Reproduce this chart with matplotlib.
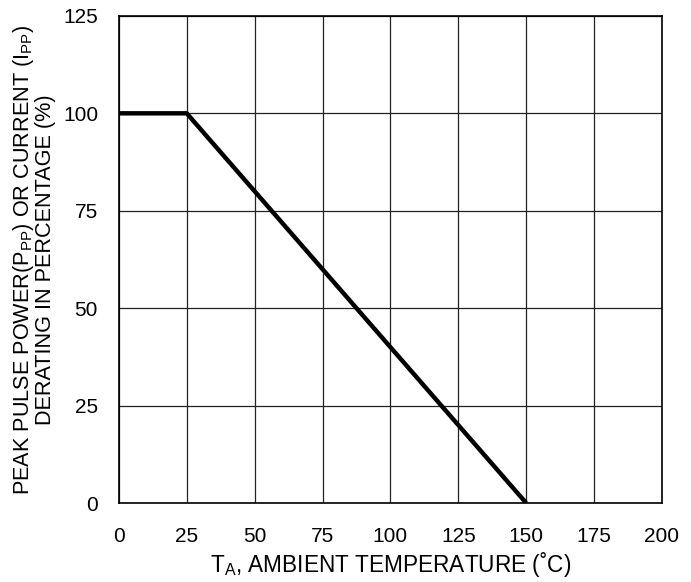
import matplotlib
matplotlib.use("Agg")
import matplotlib.pyplot as plt

plt.rcParams['font.family'] = ['Liberation Sans', 'DejaVu Sans']
plt.rcParams['mathtext.fontset'] = 'custom'
plt.rcParams['mathtext.rm'] = 'Liberation Sans'
plt.rcParams['mathtext.it'] = 'Liberation Sans'

temp = [0, 25, 150]
derating = [100, 100, 0]
xticks = [0, 25, 50, 75, 100, 125, 150, 175, 200]
yticks = [0, 25, 50, 75, 100, 125]

fig = plt.figure(figsize=(6.91, 5.82), dpi=100)
ax = fig.add_axes([0.172, 0.1357, 0.786, 0.837])

ax.plot(temp, derating, color='black', linewidth=3.2, solid_capstyle='butt', zorder=3)

ax.set_xlim(0, 200)
ax.set_ylim(0, 125)
ax.set_xticks(xticks)
ax.set_yticks(yticks)
ax.tick_params(length=0, labelsize=15)
ax.tick_params(axis='x', pad=17)
ax.tick_params(axis='y', pad=15)
ax.grid(True, color='#222222', linewidth=0.9)
for s in ax.spines.values():
    s.set_linewidth(1.2)

ax.set_xlabel('T$_{\\mathrm{A}}$, AMBIENT TEMPERATURE (˚C)', fontsize=16.3, labelpad=3)
ax.set_ylabel('PEAK PULSE POWER(P$_{\\mathrm{PP}}$) OR CURRENT (I$_{\\mathrm{PP}}$)\nDERATING IN PERCENTAGE (%)',
              fontsize=15.6, labelpad=5, linespacing=0.95)

fig.savefig('out.png', dpi=100)
